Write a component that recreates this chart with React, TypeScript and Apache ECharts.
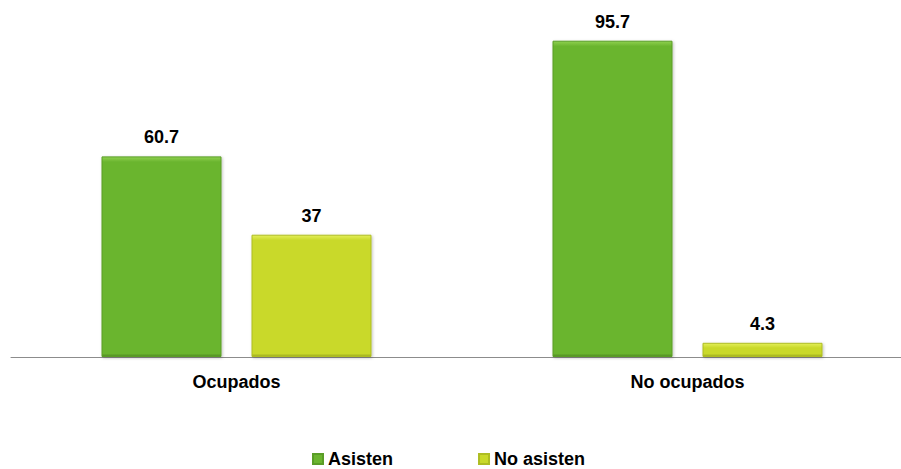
import React, { useEffect, useRef } from "react";
import * as echarts from "echarts";

const categories = ["Ocupados", "No ocupados"];
const asisten = [60.7, 95.7];
const noAsisten = [37, 4.3];
const seriesNames = ["Asisten", "No asisten"];

const FONT = "'Liberation Sans', Arial, sans-serif";
const GRID_TOP = 26.5;
const GRID_BOTTOM = 112;
const CHART_H = 469;
const PX_PER_UNIT = (CHART_H - GRID_TOP - GRID_BOTTOM) / 100;

function bevel(v: number, light: string, mid: string, dark: string) {
  const h = Math.max(v * PX_PER_UNIT, 1);
  const t = Math.min(5 / h, 0.45);
  const b = Math.max(1 - 3 / h, 0.55);
  return new echarts.graphic.LinearGradient(0, 0, 0, 1, [
    { offset: 0, color: light },
    { offset: t, color: mid },
    { offset: b, color: mid },
    { offset: 1, color: dark },
  ]);
}

function items(values: number[], light: string, mid: string, dark: string) {
  return values.map((v) => ({
    value: v,
    itemStyle: { color: bevel(v, light, mid, dark) },
  }));
}

export default function App() {
  const ref = useRef<HTMLDivElement>(null);
  useEffect(() => {
    if (!ref.current) return;
    const chart = echarts.init(ref.current, null, { renderer: "svg" });
    const label = {
      show: true,
      position: "top" as const,
      distance: 10,
      color: "#000",
      fontFamily: FONT,
      fontWeight: "bold" as const,
      fontSize: 18,
    };
    chart.setOption({
      animation: false,
      grid: { left: 11, right: 0, top: GRID_TOP, bottom: GRID_BOTTOM, containLabel: false },
      legend: {
        data: seriesNames,
        top: 445,
        left: 307,
        itemWidth: 10,
        itemHeight: 10,
        itemGap: 85,
        textStyle: { fontFamily: FONT, fontWeight: "bold", fontSize: 18, color: "#000" },
        icon: "rect",
      },
      xAxis: {
        type: "category",
        data: categories,
        axisLine: { lineStyle: { color: "#8c8c8c", width: 1 } },
        axisTick: { show: false },
        axisLabel: {
          color: "#000",
          fontFamily: FONT,
          fontWeight: "bold",
          fontSize: 18,
          margin: 16,
        },
      },
      yAxis: {
        type: "value",
        min: 0,
        max: 100,
        show: false,
        splitLine: { show: false },
      },
      series: [
        {
          name: seriesNames[0],
          type: "bar",
          data: items(asisten, "#8fd14f", "#6bb52f", "#4f8a22"),
          barWidth: 120,
          barGap: "25%",
          itemStyle: {
            color: "#6bb52f",
            borderColor: "#5a9d27",
            borderWidth: 1,
            shadowColor: "rgba(0,0,0,0.25)",
            shadowBlur: 3,
            shadowOffsetX: 1,
            shadowOffsetY: 1,
          },
          label,
        },
        {
          name: seriesNames[1],
          type: "bar",
          data: items(noAsisten, "#e4ef5a", "#c9d92a", "#9aa81c"),
          barWidth: 120,
          itemStyle: {
            color: "#c9d92a",
            borderColor: "#aebd22",
            borderWidth: 1,
            shadowColor: "rgba(0,0,0,0.25)",
            shadowBlur: 3,
            shadowOffsetX: 1,
            shadowOffsetY: 1,
          },
          label,
        },
      ],
    });
    return () => chart.dispose();
  }, []);
  return (
    <div
      style={{
        width: 901,
        height: 469,
        overflow: "hidden",
        position: "absolute",
        left: 0,
        top: 0,
      }}
    >
      <div ref={ref} style={{ width: 913, height: CHART_H }} />
    </div>
  );
}
